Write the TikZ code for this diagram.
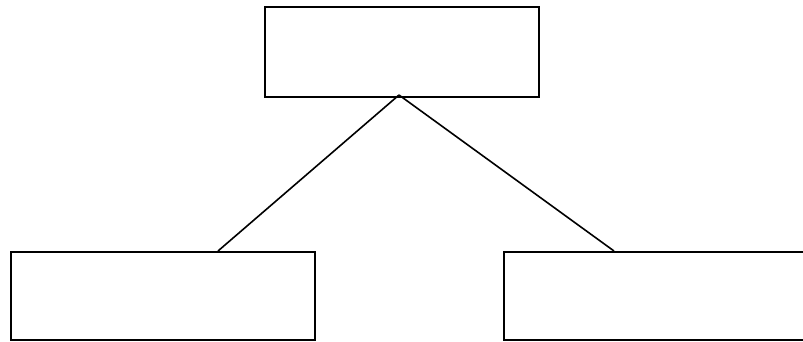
\documentclass[tikz,border=0pt]{standalone}
\begin{document}
\begin{tikzpicture}[x=1pt,y=-1pt,
  box/.style={draw=black,line width=1.6pt,fill=white,inner sep=0pt,anchor=north west},
  link/.style={draw=black,line width=1.6pt}]
\useasboundingbox (0,0) rectangle (803,341);
\clip (0,0) rectangle (803,341);
\fill[white] (0,0) rectangle (803,341);
\node[box,minimum width=274pt,minimum height=90pt] (top) at (264,6) {};
\node[box,minimum width=304pt,minimum height=88pt] (lb) at (10,251) {};
\node[box,minimum width=310pt,minimum height=88pt] (rb) at (503,251) {};
\coordinate (apex) at (399,95);
\coordinate (lend) at (218,251);
\coordinate (rend) at (614,251);
\draw[link] (apex) -- (lend);
\draw[link] (apex) -- (rend);
\end{tikzpicture}
\end{document}
